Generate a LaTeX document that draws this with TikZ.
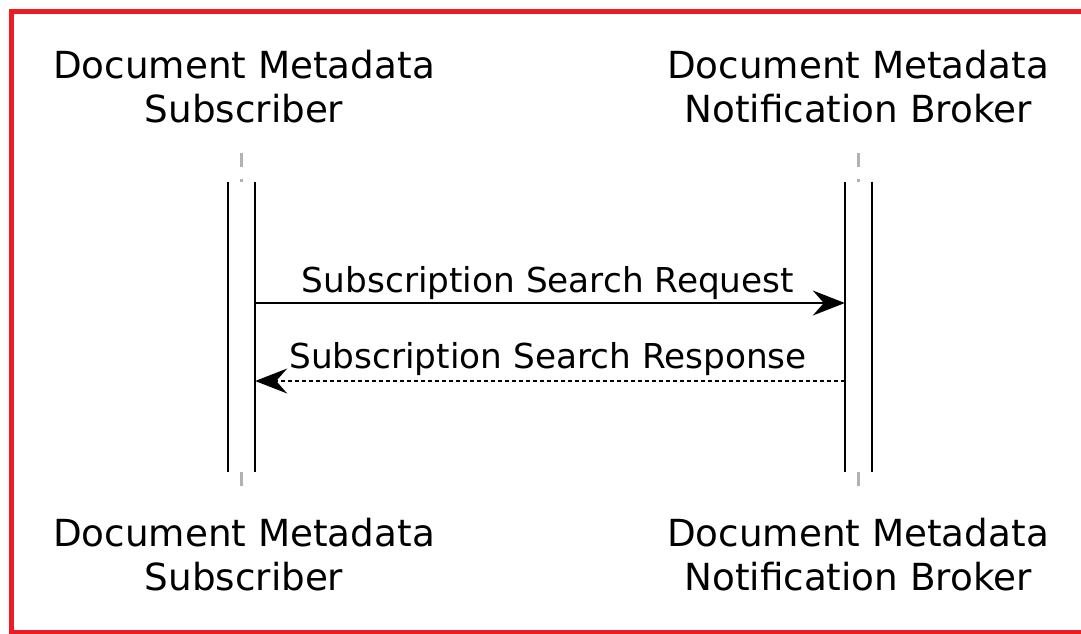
\documentclass[tikz,border=0pt]{standalone}
\usepackage{fontspec}
\setmainfont{DejaVu Sans}
\usepackage{tikz}
\usetikzlibrary{positioning,calc,arrows.meta}
\definecolor{frame}{RGB}{237,28,36}
\newcommand{\actfont}{\fontsize{37.3}{43.5}\selectfont}
\newcommand{\msgfont}{\fontsize{34.3}{40}\selectfont}
\tikzstyle{actor} = [align=center, inner sep=0pt, anchor=base, font=\actfont]
\tikzstyle{actbox} = [fill=white, minimum width=27pt, minimum height=290pt, inner sep=0pt]
\tikzstyle{side} = [line width=2pt]
\tikzstyle{life} = [draw=gray!60, line width=2.5pt, dash pattern=on 14pt off 12pt]
\tikzstyle{msg} = [-{Stealth[length=32pt,width=25pt,inset=11pt]}, line width=2pt]
\tikzstyle{ret} = [msg, line width=1.5pt, dash pattern=on 4pt off 3pt]
\tikzstyle{lbl} = [anchor=base, inner sep=0pt, font=\msgfont]

\begin{document}
\begin{tikzpicture}[x=1pt, y=-1pt]
	\useasboundingbox (0,0) rectangle (1081,633);
	\draw [frame, line width=5pt] (11,11.5) rectangle (1090,632.5);
	%
	% baseline of a node with align is the one of its last line
	\node (subtop) [actor] at (244,122) {Document Metadata\\Subscriber};
	\node (brktop) [actor] at (858,122) {Document Metadata\\Notification Broker};
	\node (subbot) [actor] at (244,590) {Document Metadata\\Subscriber};
	\node (brkbot) [actor] at (858,590) {Document Metadata\\Notification Broker};
	%
	\node (subact) [actbox] at (241.5,327) {};
	\node (brkact) [actbox] at (858.5,327) {};
	%
	\coordinate (subhead) at (241.5,153);
	\coordinate (subtail) at (241.5,488);
	\coordinate (brkhead) at (858.5,153);
	\coordinate (brktail) at (858.5,488);
	\draw [life] (subhead) -- (subact.north);
	\draw [life] (subact.south) -- (subtail);
	\draw [life] (brkhead) -- (brkact.north);
	\draw [life] (brkact.south) -- (brktail);
	%
	\draw [side] (subact.north west) -- (subact.south west);
	\draw [side] (subact.north east) -- (subact.south east);
	\draw [side] (brkact.north west) -- (brkact.south west);
	\draw [side] (brkact.north east) -- (brkact.south east);
	%
	\coordinate (req) at (0,303);
	\coordinate (res) at (0,381);
	\draw [msg] (subact.east |- req) -- (brkact.west |- req)
		node (reqlbl) [lbl, pos=0.5, xshift=-2pt, yshift=11pt] {Subscription Search Request};
	\draw [ret] (brkact.west |- res) -- (subact.east |- res)
		node (reslbl) [lbl, pos=0.5, xshift=-2pt, yshift=13pt] {Subscription Search Response};
\end{tikzpicture}
\end{document}
